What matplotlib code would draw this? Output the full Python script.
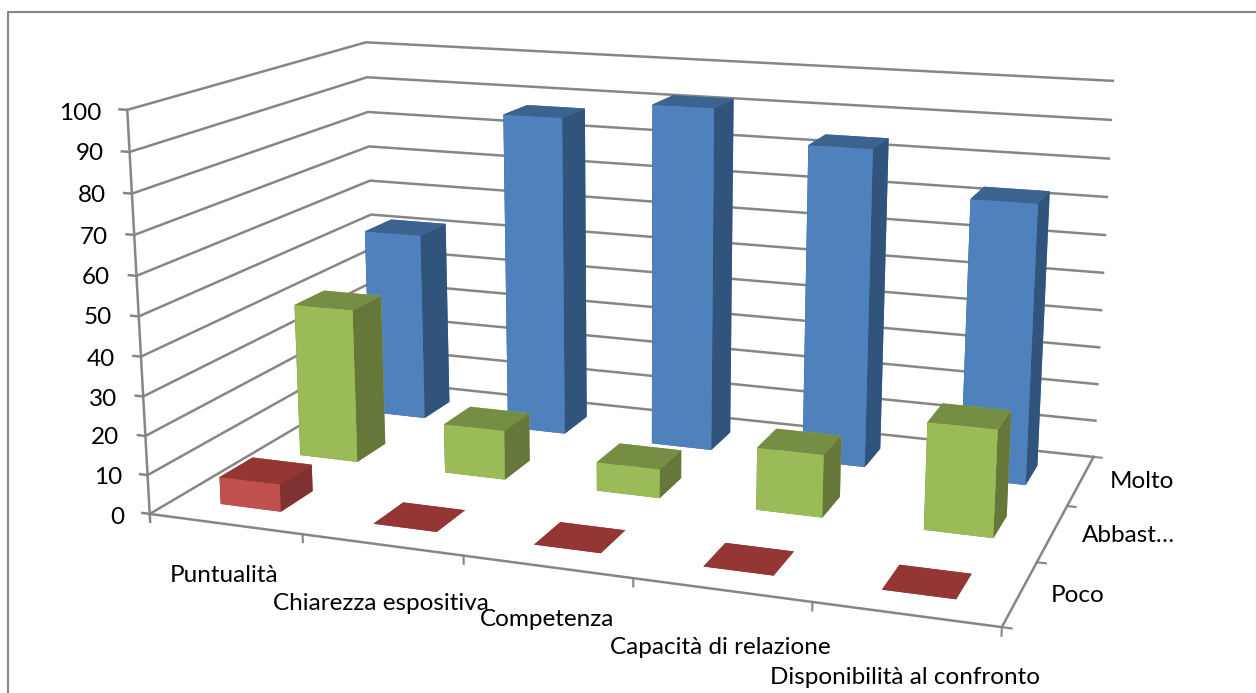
import numpy as np
import matplotlib
matplotlib.use('Agg')
import matplotlib.pyplot as plt
from matplotlib.lines import Line2D

plt.rcParams['font.family'] = ['Lato', 'DejaVu Sans']

categories = ['Puntualità', 'Chiarezza espositiva', 'Competenza', 'Capacità di relazione', 'Disponibilità al confronto']
series = ['Poco', 'Abbast…', 'Molto']
poco = [7, 0, 0, 0, 0]
abbastanza = [41, 13, 7.5, 16, 27]
molto = [52, 87, 92, 84, 73]
z_ticks = list(range(0, 101, 10))

# label anchors in pixels of the 1256x693 image
z_label_x = [124, 122, 119, 117, 115, 112, 110, 108, 106, 104, 101]
z_label_y = [517, 478, 438, 399, 359, 318, 277, 237, 195, 154, 113]
cat_x = [170, 273, 480, 610, 770]
cat_y = [575, 604, 620, 648, 677]
ser_x = [1051, 1082, 1110]
ser_y = [596, 536, 482]

fig = plt.figure(figsize=(12.56, 6.93), dpi=100)
# camera and box fitted to the corners of the reference
ax = fig.add_axes([0.08893, -0.18531, 0.81811, 1.48273], projection='3d', computed_zorder=False)
ax.set_xlim(0, 5, view_margin=0)
ax.set_ylim(0, 3, view_margin=0)
ax.set_zlim(0, 100, view_margin=0)
ax.set_box_aspect((2.102, 1.238, 1))
ax.view_init(elev=14.099, azim=-70.034)
ax.set_proj_type('persp', focal_length=0.408)
ax.set_axis_off()
ax.patch.set_alpha(0)

grid = '#868686'
for z in z_ticks:
    ax.plot([-0.05, 0, 0, 5], [0, 0, 3, 3], [z] * 4, color=grid, lw=1.8, zorder=1)
ax.plot([0, 0], [0, 0], [-2, 100], color=grid, lw=1.8, zorder=1)
ax.plot([0, 5, 5], [0, 0, 3], [0, 0, 0], color=grid, lw=1.8, zorder=1)
for i in range(1, 6):
    ax.plot([i, i], [0, 0], [0, -2], color=grid, lw=1.5, zorder=1)
for j in range(0, 4):
    ax.plot([5, 5.05], [j, j], [0, 0], color=grid, lw=1.5, zorder=1)

# top, front, side
colors = [('#943634', '#c0504d', '#7f3230'), ('#768e44', '#9bbb59', '#65783a'), ('#3c6290', '#4f81bd', '#31547d')]
order = 2
for j, vals in reversed(list(enumerate([poco, abbastanza, molto]))):
    top, front, side = colors[j]
    for i, val in enumerate(vals):
        ax.bar3d(i + 0.3, j + 0.3, 0, 0.4, 0.4, val, color=[top, top, front, front, side, side],
                 shade=False, zorder=order)
        order += 1

for z, x, y in zip(z_ticks, z_label_x, z_label_y):
    fig.text(x / 1256, 1 - y / 693, str(z), fontsize=17.5, ha='right', va='center', color='black')
for name, x, y in zip(categories, cat_x, cat_y):
    fig.text(x / 1256, 1 - y / 693, name, fontsize=17.5, va='center', color='black')
for name, x, y in zip(series, ser_x, ser_y):
    fig.text(x / 1256, 1 - y / 693, name, fontsize=17.5, va='center', color='black')

# chart frame, only top and left fall inside the image
fig.add_artist(Line2D([1, 8 / 1256, 8 / 1256], [1 - 12 / 693, 1 - 12 / 693, 0], color=grid, lw=1.5))

fig.savefig('out.png', dpi=100)
